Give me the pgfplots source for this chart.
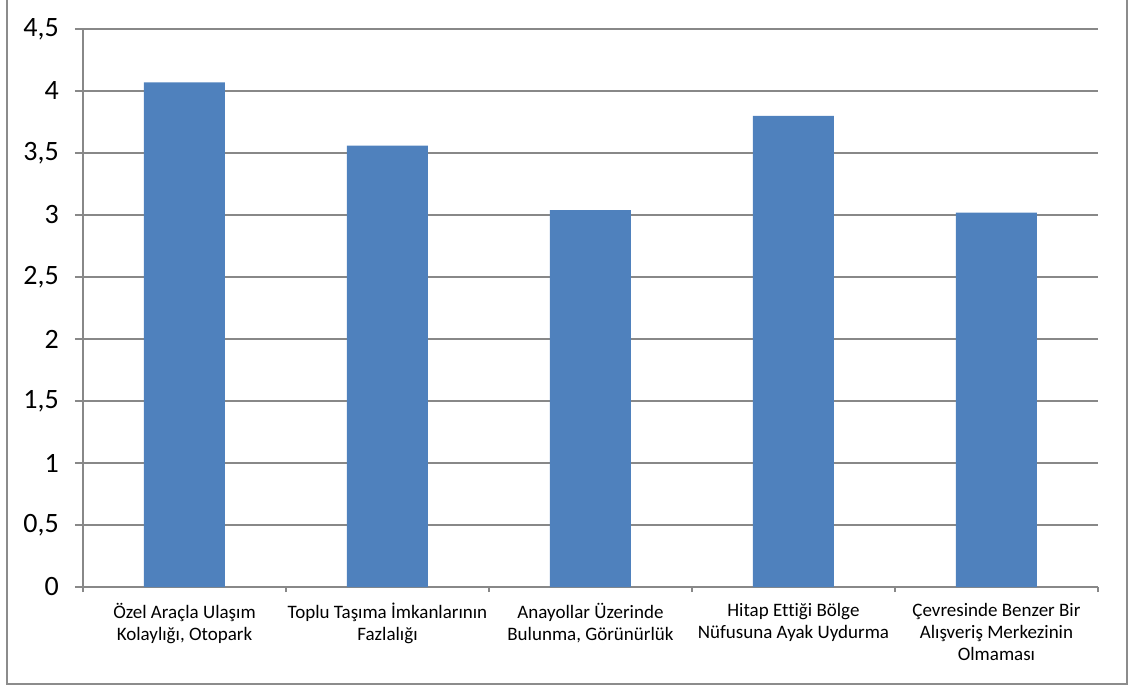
\documentclass[border=0pt]{standalone}
\usepackage{fontspec}
\setmainfont{Carlito}[Ligatures=NoCommon]
\usepackage{pgfplots}
\pgfplotsset{compat=1.18}

\definecolor{barblue}{HTML}{4F81BD}
\definecolor{gridgray}{HTML}{888888}
\definecolor{framegray}{HTML}{8C8C8C}

\begin{document}
\begin{tikzpicture}[x=1pt,y=1pt]
\begin{axis}[
  at={(83pt,99pt)}, anchor=south west,
  scale only axis,
  width=1015pt, height=558pt,
  xmin=-0.5, xmax=4.5,
  ymin=0, ymax=4.5,
  ytick={0,0.5,...,4.5},
  yticklabels={0,{0,5},1,{1,5},2,{2,5},3,{3,5},4,{4,5}},
  xtick={0,1,2,3,4},
  xticklabels={
    {Özel Araçla Ulaşım\\Kolaylığı, Otopark},
    {Toplu Taşıma İmkanlarının\\Fazlalığı},
    {Anayollar Üzerinde\\Bulunma, Görünürlük},
    {Hitap Ettiği Bölge\\Nüfusuna Ayak Uydurma},
    {Çevresinde Benzer Bir\\Alışveriş Merkezinin\\Olmaması}},
  minor xtick={-0.5,0.5,...,4.5},
  axis x line*=bottom,
  axis y line*=left,
  axis line style={gridgray, line width=1.4pt},
  tick align=outside,
  tick pos=left,
  major x tick style={draw=none},
  minor x tick style={gridgray, line width=1.4pt},
  minor tick length=5pt,
  major y tick style={gridgray, line width=1.4pt},
  major tick length=8pt,
  ymajorgrids,
  major grid style={gridgray, line width=1.4pt},
  yticklabel style={font=\fontsize{28}{32}\selectfont, inner sep=0pt, xshift=-16pt},
  xticklabel style={font=\fontsize{19}{22}\selectfont, align=center, inner sep=0pt, yshift=-8pt},
  ybar, bar width=81pt,
]
\addplot[fill=barblue, draw=none] coordinates {(0,4.07) (1,3.56) (2,3.04) (3,3.80) (4,3.02)};
\end{axis}
\draw[framegray, line width=1.3pt] (7,690) -- (7,2) -- (1127,2) -- (1127,690);
\pgfresetboundingbox
\useasboundingbox (0,0) rectangle (1130,686);
\end{tikzpicture}
\end{document}
